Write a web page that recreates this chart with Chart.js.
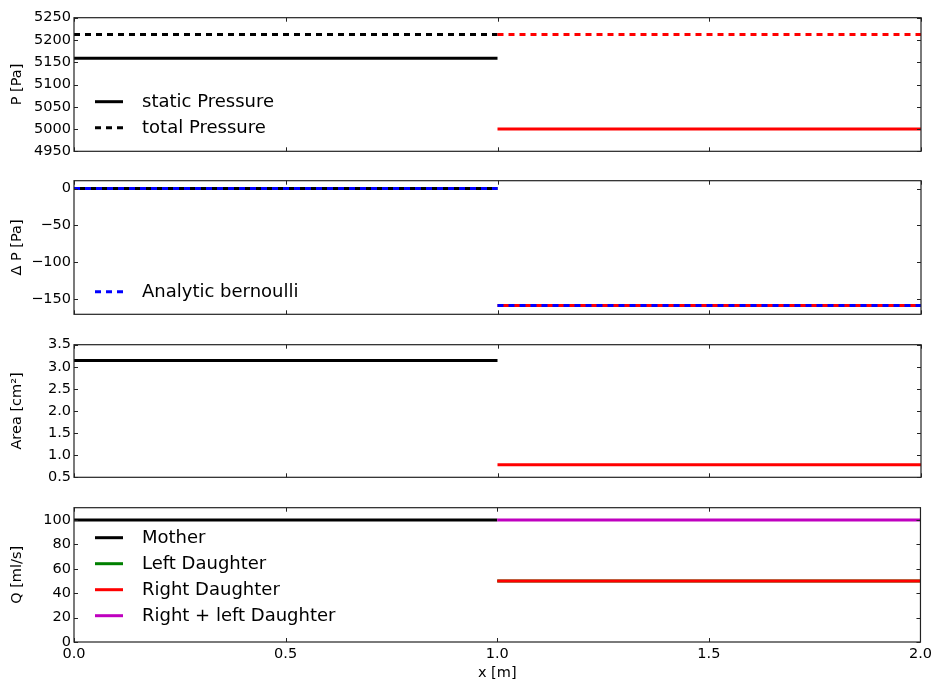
<!DOCTYPE html>
<html>
<head>
<meta charset="utf-8">
<script src="https://cdn.jsdelivr.net/npm/chart.js@4.4.1/dist/chart.umd.min.js"></script>
<style>
  body { margin: 0; background: #fff; }
  .panel { position: absolute; left: 0; width: 936px; }
</style>
</head>
<body>
<div class="panel" style="top:6px"><canvas id="c1" width="936" height="157"></canvas></div>
<div class="panel" style="top:169px"><canvas id="c2" width="936" height="157"></canvas></div>
<div class="panel" style="top:333px"><canvas id="c3" width="936" height="156"></canvas></div>
<div class="panel" style="top:496px"><canvas id="c4" width="936" height="190"></canvas></div>
<script>
// x positions: mother vessel 0..1, daughters 1..2
const motherX = [0, 1];
const daughterX = [1, 2];
const xTicks = [0, 0.5, 1, 1.5, 2];

// pressure [Pa] : mother, daughter
const staticP = [5158.7, 5000];
const totalP = [5212, 5212];
// pressure drop [Pa]
const deltaP = [0, -158.7];
const bernoulli = [0, -158.7];
// area [cm^2]
const area = [3.1416, 0.7854];
// flow [ml/s]
const qMother = [100, 100];
const qLeft = [50, 50];
const qRight = [50, 50];
const qSum = [100, 100];

const pTicks = [4950, 5000, 5050, 5100, 5150, 5200, 5250];
const dpTicks = [-150, -100, -50, 0];
const areaTicks = [0.5, 1.0, 1.5, 2.0, 2.5, 3.0, 3.5];
const qTicks = [0, 20, 40, 60, 80, 100];

const FONT = 'DejaVu Sans';
Chart.defaults.font.family = FONT;
Chart.defaults.color = '#000';

function seg(xs, ys) {
    return xs.map((x, i) => ({ x: x, y: ys[i] }));
}

let drawIdx = 0;
function line(label, xs, ys, color, dash) {
    drawIdx++;
    return {
        label: label,
        data: seg(xs, ys),
        borderColor: color,
        backgroundColor: color,
        borderWidth: 3,
        borderDash: dash || [],
        pointRadius: 0,
        fill: false,
        tension: 0,
        order: -drawIdx   // later series on top, as in matplotlib
    };
}

const minus = v => String(v).replace('-', '\u2212');

// frame with inward ticks on all four sides, like the old matplotlib style
const framePlugin = {
    id: 'frame',
    afterDatasetsDraw(chart, args, opts) {
        const a = chart.chartArea, c = chart.ctx;
        const xs = chart.scales.x, ys = chart.scales.y;
        c.save();
        c.strokeStyle = '#222';
        c.lineWidth = 1.2;
        c.strokeRect(a.left, a.top, a.right - a.left, a.bottom - a.top);
        c.lineWidth = 1;
        c.beginPath();
        xTicks.forEach(v => {
            const px = Math.round(xs.getPixelForValue(v)) + 0.5;
            c.moveTo(px, a.top); c.lineTo(px, a.top + 4);
            c.moveTo(px, a.bottom); c.lineTo(px, a.bottom - 4);
        });
        opts.yTicks.forEach(v => {
            const py = Math.round(ys.getPixelForValue(v)) + 0.5;
            c.moveTo(a.left, py); c.lineTo(a.left + 4, py);
            c.moveTo(a.right, py); c.lineTo(a.right - 4, py);
        });
        c.stroke();
        c.restore();
    },
    afterDraw(chart, args, opts) {
        if (!opts.legend) return;
        const a = chart.chartArea, c = chart.ctx;
        const lg = opts.legend;
        let y = a.top + lg.dy;
        c.save();
        chart.data.datasets.forEach(ds => {
            if (!ds.label) return;
            const x = a.left + lg.dx;
            c.strokeStyle = ds.borderColor;
            c.lineWidth = 3;
            c.setLineDash(ds.borderDash);
            c.beginPath();
            c.moveTo(x, y); c.lineTo(x + 28, y);
            c.stroke();
            c.setLineDash([]);
            c.fillStyle = '#000';
            c.font = '18px ' + FONT;
            c.textBaseline = 'middle';
            c.fillText(ds.label, x + 47, y + 1);
            y += 26;
        });
        c.restore();
    }
};

function makeChart(id, datasets, yMin, yMax, yTicks, yTitle, fmt, bottom, legend) {
    const xScale = bottom ? {
        type: 'linear', min: 0, max: 2,
        grid: { display: false, drawTicks: false },
        border: { display: false },
        ticks: { font: { size: 14.5 }, padding: 4, callback: v => v.toFixed(1) },
        afterBuildTicks: s => { s.ticks = xTicks.map(v => ({ value: v })); },
        title: { display: true, text: 'x [m]', font: { size: 14.5 }, padding: { top: 0, bottom: 4 } },
        afterFit: s => { s.height = 44; }
    } : { type: 'linear', min: 0, max: 2, display: false };
    return new Chart(document.getElementById(id), {
        type: 'line',
        data: { datasets: datasets },
        options: {
            responsive: false,
            animation: false,
            layout: { padding: { left: 0, right: 15, top: 10, bottom: bottom ? 0 : 10 } },
            plugins: {
                legend: { display: false },
                tooltip: { enabled: false },
                frame: { yTicks: yTicks, legend: legend }
            },
            scales: {
                x: xScale,
                y: {
                    min: yMin, max: yMax,
                    grid: { display: false, drawTicks: false },
                    border: { display: false },
                    ticks: { font: { size: 14.5 }, padding: 3, callback: fmt },
                    afterBuildTicks: s => { s.ticks = yTicks.map(v => ({ value: v })); },
                    title: { display: true, text: yTitle, font: { size: 14.5 }, padding: { top: 9, bottom: 0 } },
                    afterFit: s => { s.width = 74; }
                }
            }
        },
        plugins: [framePlugin]
    });
}

makeChart('c1', [
    line('static Pressure', motherX, [staticP[0], staticP[0]], '#000'),
    line('total Pressure', motherX, [totalP[0], totalP[0]], '#000', [6, 5]),
    line('', daughterX, [staticP[1], staticP[1]], '#ff0000'),
    line('', daughterX, [totalP[1], totalP[1]], '#ff0000', [6, 5])
], 4950, 5250, pTicks, 'P [Pa]', v => String(v), false, { dx: 21, dy: 84 });

makeChart('c2', [
    line('', motherX, [deltaP[0], deltaP[0]], '#000'),
    line('', daughterX, [deltaP[1], deltaP[1]], '#ff0000'),
    line('Analytic bernoulli', motherX, [bernoulli[0], bernoulli[0]], '#0000ff', [6, 5]),
    line('', daughterX, [bernoulli[1], bernoulli[1]], '#0000ff', [6, 5])
], -170.8, 10.6, dpTicks, '\u0394 P [Pa]', v => minus(v), false, { dx: 21, dy: 111 });

makeChart('c3', [
    line('', motherX, [area[0], area[0]], '#000'),
    line('', daughterX, [area[1], area[1]], '#ff0000')
], 0.5, 3.5, areaTicks, 'Area [cm\u00b2]', v => v.toFixed(1), false, null);

makeChart('c4', [
    line('Mother', motherX, qMother, '#000'),
    line('Left Daughter', daughterX, qLeft, '#008000'),
    line('Right Daughter', daughterX, qRight, '#ff0000'),
    line('Right + left Daughter', daughterX, qSum, '#bf00bf')
], 0, 110, qTicks, 'Q [ml/s]', v => String(v), true, { dx: 21, dy: 30 });
</script>
</body>
</html>
